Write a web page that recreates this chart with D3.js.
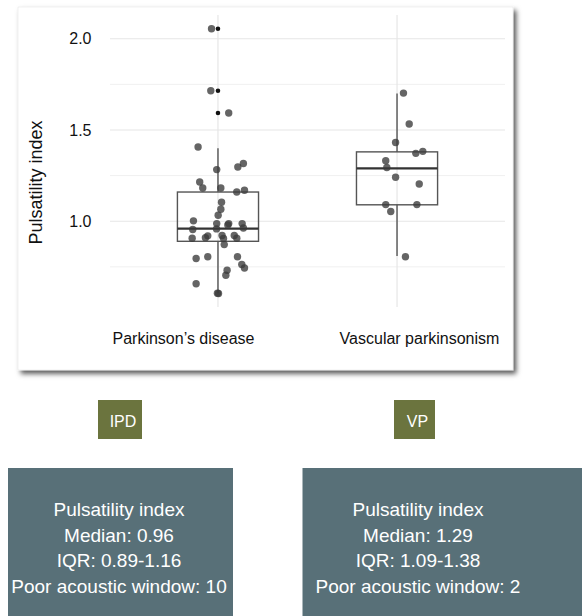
<!DOCTYPE html>
<html><head><meta charset="utf-8">
<script src="https://cdn.jsdelivr.net/npm/d3@7"></script>
<style>
html,body{margin:0;padding:0;background:#fff;}
svg{display:block;font-family:"Liberation Sans",Arial,Helvetica,sans-serif;}
</style></head>
<body>
<svg id="chart" width="582" height="616"></svg>
<script>
// ---- data ----
const categories = ["IPD", "VP"];
const xLabels = ["Parkinson\u2019s disease", "Vascular parkinsonism"];
const majorTicks = [1.0, 1.5, 2.0];
const tickLabels = ["1.0", "1.5", "2.0"];
const minorTicks = [0.75, 1.25, 1.75];

const ipdValues = [2.055,1.715,1.593,1.407,1.283,1.297,1.316,1.215,1.182,1.182,1.160,1.170,1.104,1.066,1.033,1.002,0.987,0.987,0.980,0.987,0.955,0.958,0.963,0.907,0.910,0.920,0.922,0.905,0.922,0.907,0.872,0.796,0.805,0.805,0.763,0.744,0.731,0.704,0.657,0.604,0.606];
const ipdJitter = [-0.036,-0.040,0.060,-0.111,-0.007,0.111,0.142,-0.102,-0.085,0.016,0.105,0.148,0.020,0.016,0.001,-0.137,-0.007,0.060,0.055,0.135,-0.141,-0.008,0.142,-0.144,-0.070,-0.057,0.023,0.031,0.091,0.105,0.035,-0.122,-0.057,0.109,0.133,0.148,0.051,0.044,-0.122,0.003,-0.003];
const vpValues = [1.702,1.533,1.431,1.372,1.383,1.331,1.294,1.241,1.204,1.091,1.091,1.053,0.805];
const vpJitter = [0.036,0.068,-0.008,0.105,0.144,-0.063,-0.057,-0.008,0.124,-0.063,0.111,-0.035,0.047];

const medians = [0.96, 1.29];
const q1s = [0.89, 1.09];
const q3s = [1.16, 1.38];
const whiskerLow = [0.605, 0.81];
const whiskerHigh = [1.40, 1.70];
const poorWindow = [10, 2];
const groupNames = ["IPD", "VP"];

// ---- layout ----
const svg = d3.select("#chart");
const defs = svg.append("defs");
const f = defs.append("filter").attr("id","shadow").attr("x","-5%").attr("y","-5%").attr("width","115%").attr("height","115%");
f.append("feDropShadow").attr("dx",3).attr("dy",3.5).attr("stdDeviation",2.4).attr("flood-color","#000").attr("flood-opacity",0.65);

// card
svg.append("rect").attr("x",18).attr("y",7).attr("width",495).attr("height",363)
  .attr("fill","#fff").attr("stroke","#e6e6e6").attr("stroke-width",0.6).attr("filter","url(#shadow)");

const x = d3.scalePoint().domain(categories).range([110, 505]).padding(0.603);
const y = d3.scaleLinear().domain([0.53, 2.13]).range([307, 15]);
const step = x.step();

const g = svg.append("g");
// grid
g.selectAll(".minor").data(minorTicks).join("line")
  .attr("x1",110).attr("x2",505).attr("y1",d=>y(d)).attr("y2",d=>y(d))
  .attr("stroke","#f0f0f0").attr("stroke-width",1);
g.selectAll(".major").data(majorTicks).join("line")
  .attr("x1",110).attr("x2",505).attr("y1",d=>y(d)).attr("y2",d=>y(d))
  .attr("stroke","#e6e6e6").attr("stroke-width",1.2);
g.selectAll(".vgrid").data(categories).join("line")
  .attr("x1",d=>x(d)).attr("x2",d=>x(d)).attr("y1",15).attr("y2",307)
  .attr("stroke","#e6e6e6").attr("stroke-width",1.2);

// y axis labels
const yAxis = d3.axisLeft(y).tickValues(majorTicks).tickFormat((d,i)=>tickLabels[i]).tickSize(0).tickPadding(0);
const ya = svg.append("g").attr("transform","translate(91.5,0)").call(yAxis);
ya.select(".domain").remove();
ya.selectAll("text").attr("font-size",16).attr("fill","#111").attr("font-family","'Liberation Sans',Arial,sans-serif");

svg.append("text").attr("transform","translate(42,182.5) rotate(-90)")
  .attr("text-anchor","middle").attr("font-size",18).attr("fill","#111").text("Pulsatility index");

// x labels (positioned as in original composite)
const xLabelCenters = [183.5, 419.5];
svg.selectAll(".xl").data(xLabels).join("text")
  .attr("x",(d,i)=>xLabelCenters[i]).attr("y",343.5).attr("text-anchor","middle")
  .attr("font-size",16).attr("fill","#111").text(d=>d);

// boxes
const boxW = 0.453 * step;
categories.forEach((c,i)=>{
  const cx = x(c);
  g.append("line").attr("x1",cx).attr("x2",cx).attr("y1",y(q3s[i])).attr("y2",y(whiskerHigh[i])).attr("stroke","#555").attr("stroke-width",1.4);
  g.append("line").attr("x1",cx).attr("x2",cx).attr("y1",y(q1s[i])).attr("y2",y(whiskerLow[i])).attr("stroke","#555").attr("stroke-width",1.4);
  g.append("rect").attr("x",cx-boxW/2).attr("y",y(q3s[i])).attr("width",boxW).attr("height",y(q1s[i])-y(q3s[i]))
    .attr("fill","none").attr("stroke","#555").attr("stroke-width",1.4);
  g.append("line").attr("x1",cx-boxW/2).attr("x2",cx+boxW/2).attr("y1",y(medians[i])).attr("y2",y(medians[i]))
    .attr("stroke","#333").attr("stroke-width",2.3);
});

// outliers (boxplot-style, at centre)
const allVals = [ipdValues, vpValues];
categories.forEach((c,i)=>{
  const outs = allVals[i].filter(v=>v>whiskerHigh[i]+0.02 || v<whiskerLow[i]-0.02);
  g.selectAll(".out"+i).data(outs).join("circle")
    .attr("cx",x(c)).attr("cy",d=>y(d)).attr("r",2.3).attr("fill","#111");
});

// jittered points
const pts = [];
ipdValues.forEach((v,i)=>pts.push({c:"IPD",v,j:ipdJitter[i]}));
vpValues.forEach((v,i)=>pts.push({c:"VP",v,j:vpJitter[i]}));
g.selectAll(".pt").data(pts).join("circle")
  .attr("cx",d=>x(d.c)+d.j*step).attr("cy",d=>y(d.v)).attr("r",3.7)
  .attr("fill","#3a3a3a").attr("fill-opacity",0.78);

// lower panels
const tagCenters = [120, 414.5];
const tagW = [44, 41];
tagCenters.forEach((cx,i)=>{
  svg.append("rect").attr("x",cx-tagW[i]/2).attr("y",400).attr("width",tagW[i]).attr("height",39).attr("fill","#6b743e");
  svg.append("text").attr("x",cx+3).attr("y",427).attr("text-anchor","middle").attr("font-size",16).attr("fill","#fff").text(groupNames[i]);
});

const panelX = [8, 302.5];
const panelW = [225, 290];
const textCenters = [119, 418];
categories.forEach((c,i)=>{
  svg.append("rect").attr("x",panelX[i]).attr("y",468).attr("width",panelW[i]).attr("height",160).attr("fill","#587078");
  const lines = ["Pulsatility index", "Median: " + medians[i].toFixed(2),
    "IQR: " + q1s[i].toFixed(2) + "-" + q3s[i].toFixed(2), "Poor acoustic window: " + poorWindow[i]];
  svg.selectAll(".pl"+i).data(lines).join("text")
    .attr("x",textCenters[i]).attr("y",(d,k)=>516+k*25.5).attr("text-anchor","middle")
    .attr("font-size",19).attr("fill","#fff").text(d=>d);
});
</script>
</body></html>
